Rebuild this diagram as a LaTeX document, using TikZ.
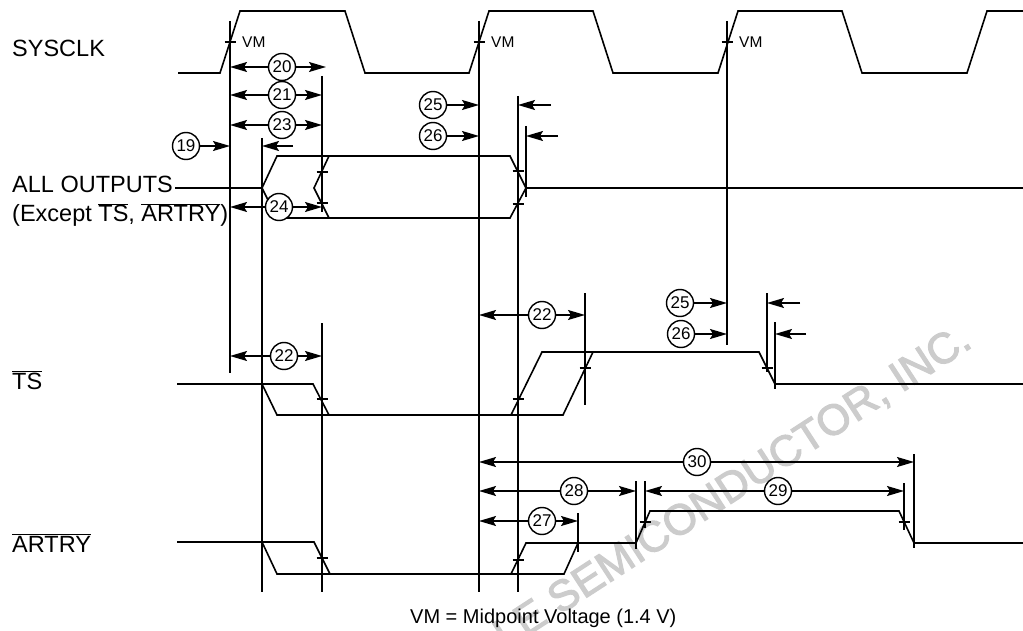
\documentclass[tikz,border=0pt]{standalone}
\usepackage{fontspec}
\setmainfont{Liberation Sans}
\newfontfamily\wmfont{Liberation Sans}[FakeBold=2.5]
\usetikzlibrary{arrows.meta}
\newcommand{\ovl}[1]{\ensuremath{\overline{\hbox{#1}}}}

\begin{document}
\begin{tikzpicture}[x=1pt, y=-1pt,
  sig/.style={line width=1.6pt},
  dim/.style={line width=1.6pt, -{Stealth[length=17pt, width=10pt, inset=3pt]}},
  num/.style={circle, draw, fill=white, line width=1.4pt, minimum size=27pt,
    inner sep=0pt, font=\fontsize{17}{17}\selectfont},
  lbl/.style={anchor=base west, inner sep=0pt, font=\fontsize{23.5}{27}\selectfont},
  vmlbl/.style={anchor=west, inner sep=0pt, font=\fontsize{15.5}{15.5}\selectfont}
]
\useasboundingbox (0,0) rectangle (1023,631);

% watermark
\node[anchor=base east, rotate=33, inner sep=0pt, text=black!20,
  font=\wmfont\fontsize{43}{43}\selectfont] (wm) at (974,346)
  {FREESCALE SEMICONDUCTOR, INC.};

% time marks
\coordinate (xA) at (230,0);
\coordinate (xB) at (262,0);
\coordinate (xC) at (322,0);
\coordinate (xC2) at (326,0);
\coordinate (xD) at (479,0);
\coordinate (xE) at (518,0);
\coordinate (xF) at (526,0);
\coordinate (xG) at (578,0);
\coordinate (xH) at (585,0);
\coordinate (xI) at (636,0);
\coordinate (xJ) at (645,0);
\coordinate (xK) at (727,0);
\coordinate (xL) at (767,0);
\coordinate (xM) at (775,0);
\coordinate (xN) at (904,0);
\coordinate (xO) at (914,0);

% signal names
\node[lbl] (sysclk) at (12,57) {SYSCLK};
\node[lbl] (allout) at (12,193) {ALL OUTPUTS};
\node[lbl] (except) at (12,222) {(Except \ovl{TS}, \ovl{ARTRY})};
\node[lbl] (ts) at (12,389) {\ovl{TS}};
\node[lbl] (artry) at (12,552) {\ovl{ARTRY}};

% SYSCLK
\draw[sig] (178,73) -- (220,73) -- (240,11) -- (345,11) -- (365,73) -- (469,73)
  -- (489,11) -- (593,11) -- (613,73) -- (718,73) -- (738,11) -- (842,11)
  -- (862,73) -- (967,73) -- (987,11) -- (1023,11);
\node[vmlbl] (vm1) at (242,42) {VM};
\node[vmlbl] (vm2) at (491,42) {VM};
\node[vmlbl] (vm3) at (739,42) {VM};

% ALL OUTPUTS
\draw[sig] (allout.base east) ++(2,-5) -- (262,188) -- (277,156) -- (510,156)
  -- (526,188) -- (1023,188);
\draw[sig] (262,188) -- (277,218) -- (510,218) -- (526,188);
\draw[sig] (329,156) -- (314,188) -- (329,218);

% TS
\draw[sig] (177,384) -- (313,384) -- (329,415);
\draw[sig] (262,384) -- (277,415) -- (563,415) -- (593,352);
\draw[sig] (511,415) -- (542,352) -- (759,352) -- (775,384) -- (1023,384);

% ARTRY
\draw[sig] (177,542) -- (314,542) -- (330,574);
\draw[sig] (262,542) -- (277,574) -- (564,574) -- (578,543) -- (636,543)
  -- (650,511) -- (899,511) -- (914,543) -- (1023,543);
\draw[sig] (511,574) -- (526,543) -- (578,543);

% reference lines
\draw[sig] (230,21) -- (230,373);
\draw[sig] (262,138) -- (262,592);
\draw[sig] (322,76) -- (322,212);
\draw[sig] (322,323) -- (322,592);
\draw[sig] (479,21) -- (479,592);
\draw[sig] (518,96) -- (518,592);
\draw[sig] (526,126) -- (526,197);
\draw[sig] (585,293) -- (585,405);
\draw[sig] (578,513) -- (578,552);
\draw[sig] (636,481) -- (636,549);
\draw[sig] (645,481) -- (645,528);
\draw[sig] (727,21) -- (727,345);
\draw[sig] (767,293) -- (767,372);
\draw[sig] (775,322) -- (775,389);
\draw[sig] (904,483) -- (904,530);
\draw[sig] (914,454) -- (914,548);

% VM ticks
\draw[sig] (224.5,42) -- (235.5,42);
\draw[sig] (473.5,42) -- (484.5,42);
\draw[sig] (721.5,42) -- (732.5,42);
\draw[sig] (316.5,172) -- (327.5,172);
\draw[sig] (316.5,203) -- (327.5,203);
\draw[sig] (512.5,171) -- (523.5,171);
\draw[sig] (512.5,204) -- (523.5,204);
\draw[sig] (316.5,399) -- (327.5,399);
\draw[sig] (512.5,399) -- (523.5,399);
\draw[sig] (579.5,368) -- (590.5,368);
\draw[sig] (761.5,368) -- (772.5,368);
\draw[sig] (316.5,558) -- (327.5,558);
\draw[sig] (512.5,560) -- (523.5,560);
\draw[sig] (639.5,522) -- (650.5,522);
\draw[sig] (898.5,522) -- (909.5,522);

% timing parameters
\node[num] (n19) at (186,146) {19};
\draw[dim] (n19) -- (n19 -| xA);
\coordinate (f19) at (293,146);
\draw[dim] (f19) -- (f19 -| xB);

\node[num] (n20) at (282,67) {20};
\draw[dim] (n20) -- (n20 -| xA);
\draw[dim] (n20) -- (n20 -| xC2);
\node[num] (n21) at (282,95) {21};
\draw[dim] (n21) -- (n21 -| xA);
\draw[dim] (n21) -- (n21 -| xC);
\node[num] (n23) at (282,125) {23};
\draw[dim] (n23) -- (n23 -| xA);
\draw[dim] (n23) -- (n23 -| xC);
\node[num] (n24) at (279,207) {24};
\draw[dim] (n24) -- (n24 -| xA);
\draw[dim] (n24) -- (n24 -| xC);

\node[num] (n25a) at (433,105) {25};
\draw[dim] (n25a) -- (n25a -| xD);
\coordinate (f25a) at (551,105);
\draw[dim] (f25a) -- (f25a -| xE);
\node[num] (n26a) at (433,136) {26};
\draw[dim] (n26a) -- (n26a -| xD);
\coordinate (f26a) at (558,136);
\draw[dim] (f26a) -- (f26a -| xF);

\node[num] (n22a) at (284,356) {22};
\draw[dim] (n22a) -- (n22a -| xA);
\draw[dim] (n22a) -- (n22a -| xC);
\node[num] (n22b) at (542,315) {22};
\draw[dim] (n22b) -- (n22b -| xD);
\draw[dim] (n22b) -- (n22b -| xH);

\node[num] (n25b) at (680,303) {25};
\draw[dim] (n25b) -- (n25b -| xK);
\coordinate (f25b) at (800,303);
\draw[dim] (f25b) -- (f25b -| xL);
\node[num] (n26b) at (681,334) {26};
\draw[dim] (n26b) -- (n26b -| xK);
\coordinate (f26b) at (806,334);
\draw[dim] (f26b) -- (f26b -| xM);

\node[num] (n30) at (697,462) {30};
\draw[dim] (n30) -- (n30 -| xD);
\draw[dim] (n30) -- (n30 -| xO);
\node[num] (n28) at (574,491) {28};
\draw[dim] (n28) -- (n28 -| xD);
\draw[dim] (n28) -- (n28 -| xI);
\node[num] (n29) at (778,491) {29};
\draw[dim] (n29) -- (n29 -| xJ);
\draw[dim] (n29) -- (n29 -| xN);
\node[num] (n27) at (542,521) {27};
\draw[dim] (n27) -- (n27 -| xD);
\draw[dim] (n27) -- (n27 -| xG);

% legend
\node[anchor=base west, inner sep=0pt, font=\fontsize{20}{24}\selectfont] (note)
  at (410,623) {VM = Midpoint Voltage (1.4 V)};

\end{tikzpicture}
\end{document}
